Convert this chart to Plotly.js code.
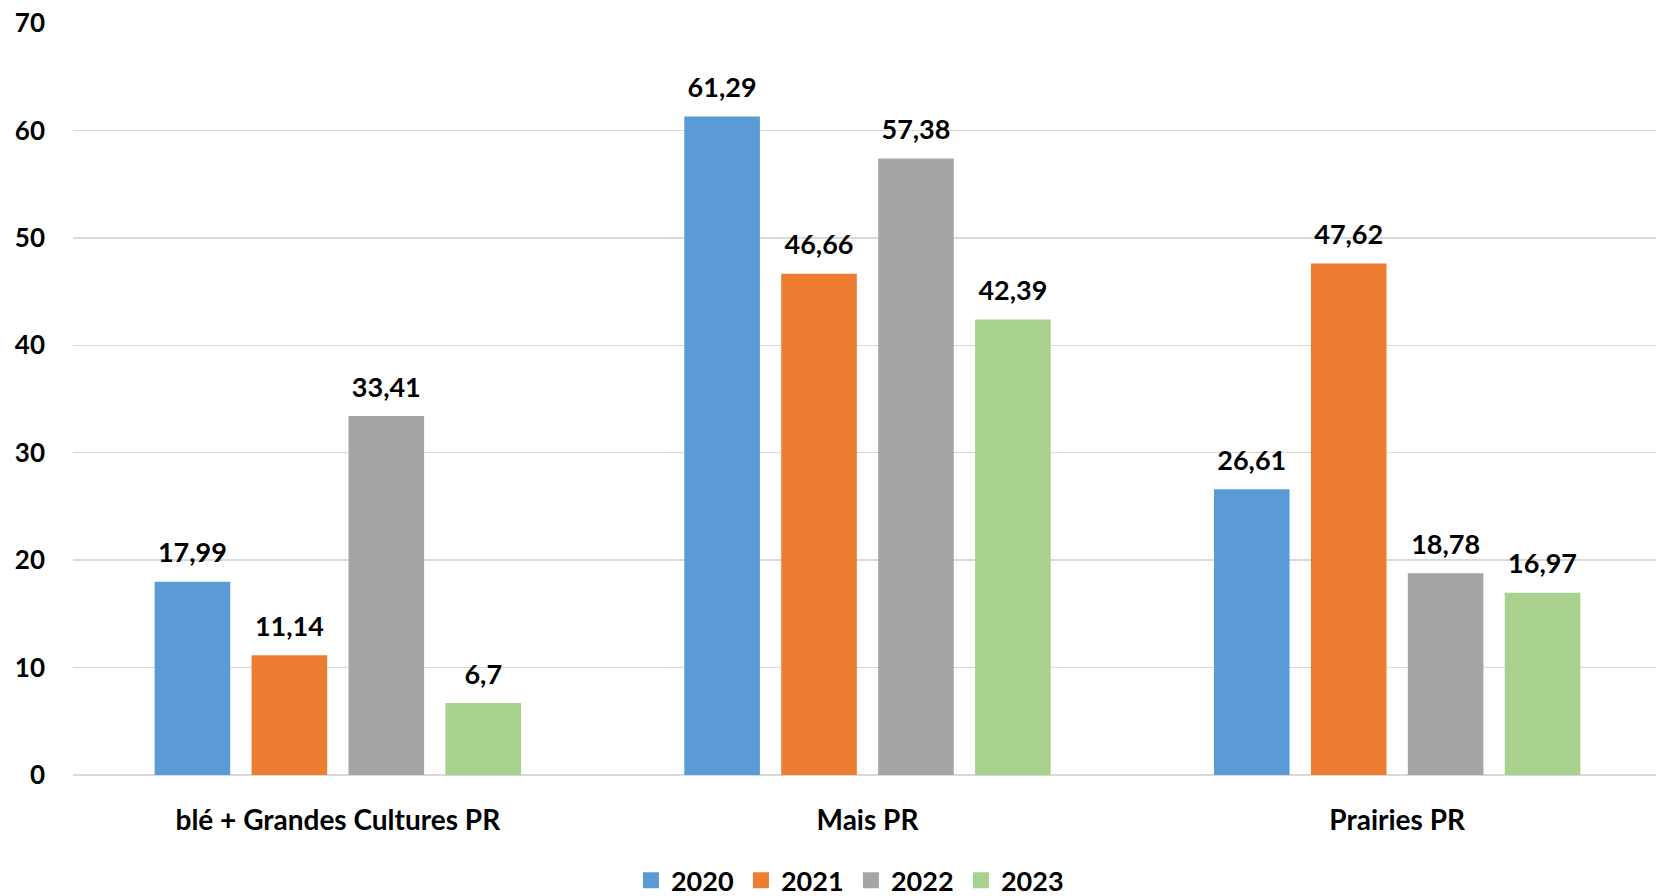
<!DOCTYPE html>
<html>
<head>
<meta charset="utf-8">
<script src="https://cdn.plot.ly/plotly-3.0.1.min.js"></script>
<style>html,body{margin:0;padding:0;background:#fff;overflow:hidden;}#chart{width:1662px;height:896px;}</style>
</head>
<body>
<div id="chart"></div>
<script>
const categories = ["blé + Grandes Cultures PR", "Mais PR", "Prairies PR"];
const seriesNames = ["2020", "2021", "2022", "2023"];
const values2020 = [17.99, 61.29, 26.61];
const values2021 = [11.14, 46.66, 47.62];
const values2022 = [33.41, 57.38, 18.78];
const values2023 = [6.7, 42.39, 16.97];
const yTicks = [0, 10, 20, 30, 40, 50, 60, 70];

const colors = ["#5B9BD5", "#ED7D31", "#A5A5A5", "#A9D18E"];
const allValues = [values2020, values2021, values2022, values2023];
const FONT = "Lato, 'Open Sans', sans-serif";
const FS = 26;
const LABEL_FS = 27;

const barTraces = allValues.map((vals, i) => ({
  type: "bar",
  name: seriesNames[i],
  x: categories.map(c => "<b>" + c + "</b>"),
  y: vals,
  marker: {color: colors[i]},
  text: vals.map(v => "<span style='font-size:" + LABEL_FS + "px'><b>" + String(v).replace(".", ",") + "</b></span><br> "),
  textposition: "outside",
  constraintext: "none",
  cliponaxis: false,
  textfont: {family: FONT, size: 11, color: "#000"},
  showlegend: false,
  hoverinfo: "skip"
}));

const legendTraces = seriesNames.map((n, i) => ({
  type: "scatter",
  mode: "markers",
  name: "<b>" + n + "</b>",
  x: [null], y: [null],
  marker: {symbol: "square", size: 19, color: colors[i]},
  showlegend: true,
  hoverinfo: "skip"
}));

const layout = {
  width: 1662, height: 896,
  margin: {l: 73, r: 0, t: 23, b: 121},
  paper_bgcolor: "#fff", plot_bgcolor: "#fff",
  barmode: "group",
  bargap: 0.268,
  bargroupgap: 0.22,
  font: {family: FONT, size: FS, color: "#000"},
  xaxis: {
    type: "category",
    tickfont: {family: FONT, size: 28, color: "#000"},
    showgrid: false, zeroline: false, showline: false,
    ticks: "", ticklabelstandoff: 26
  },
  yaxis: {
    range: [0, 70],
    tickvals: yTicks,
    ticktext: yTicks.map(t => "<b>" + t + "</b>"),
    tickfont: {family: FONT, size: FS, color: "#000"},
    showgrid: true, gridcolor: "#D9D9D9", gridwidth: 1.5,
    zeroline: true, zerolinecolor: "#D9D9D9", zerolinewidth: 1.5,
    showline: false, ticks: "", ticklabelstandoff: 27
  },
  showlegend: true,
  legend: {
    orientation: "h",
    xref: "container", yref: "container",
    x: 0.512, xanchor: "center",
    y: 0.017, yanchor: "middle",
    font: {family: FONT, size: 27, color: "#000"},
    itemwidth: 30,
    entrywidth: 65,
    traceorder: "normal"
  }
};

Plotly.newPlot("chart", barTraces.concat(legendTraces), layout, {displayModeBar: false, staticPlot: true});
</script>
</body>
</html>
